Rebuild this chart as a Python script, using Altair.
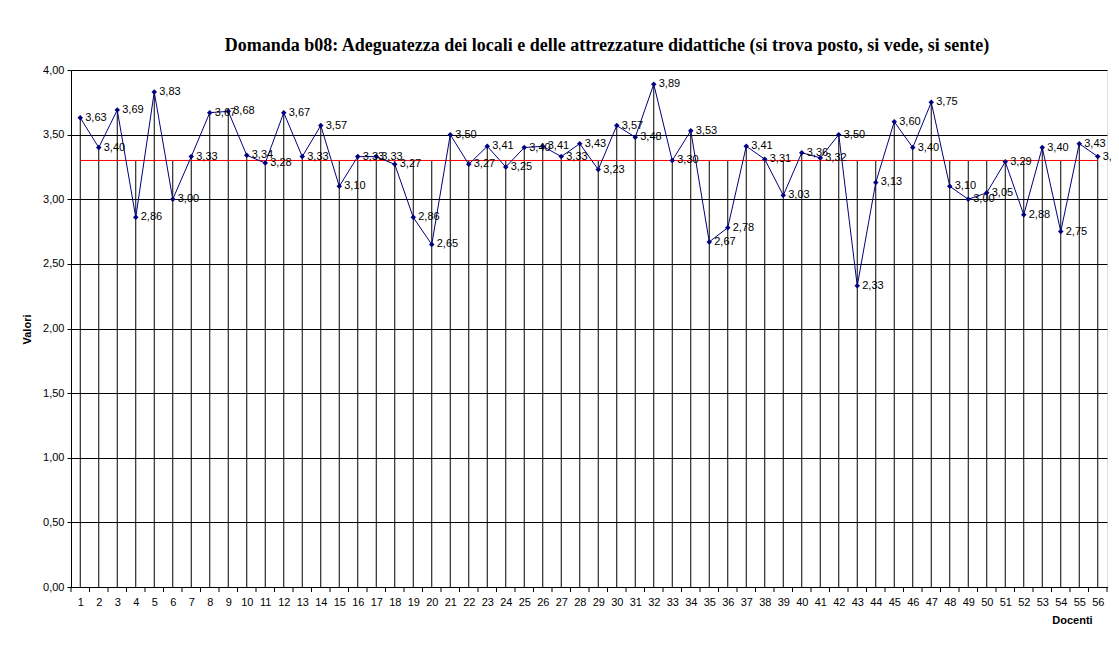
import altair as alt
import pandas as pd

docenti = list(range(1, 57))
valori = [3.63, 3.40, 3.69, 2.86, 3.83, 3.00, 3.33, 3.67, 3.68, 3.34,
          3.28, 3.67, 3.33, 3.57, 3.10, 3.33, 3.33, 3.27, 2.86, 2.65,
          3.50, 3.27, 3.41, 3.25, 3.40, 3.41, 3.33, 3.43, 3.23, 3.57,
          3.48, 3.89, 3.30, 3.53, 2.67, 2.78, 3.41, 3.31, 3.03, 3.36,
          3.32, 3.50, 2.33, 3.13, 3.60, 3.40, 3.75, 3.10, 3.00, 3.05,
          3.29, 2.88, 3.40, 2.75, 3.43, 3.33]
media = 3.30
y_ticks = [0, 0.5, 1.0, 1.5, 2.0, 2.5, 3.0, 3.5, 4.0]
titolo = "Domanda b08: Adeguatezza dei locali e delle attrezzature didattiche (si trova posto, si vede, si sente)"

df = pd.DataFrame({"docente": docenti, "valore": valori})
df["top"] = df["valore"].clip(lower=media)
df["media"] = media
df["etichetta"] = [f"{v:.2f}".replace(".", ",") for v in valori]

bounds = pd.DataFrame({"docente": [d - 0.5 for d in docenti] + [docenti[-1] + 0.5]})

W, H = 1036, 517
FONT = "Liberation Sans"

xaxis = alt.Axis(values=docenti, tickSize=0, labelPadding=9, grid=False,
                 title="Docenti", titleFont=FONT, titleFontSize=11, titleFontWeight="bold",
                 titleColor="black", titleX=1001, titleY=33, titleAlign="center",
                 titleBaseline="middle", labelFont=FONT, labelFontSize=11,
                 labelColor="black", domainColor="black", labelFlush=False)
yaxis = alt.Axis(values=y_ticks, grid=True, gridColor="black", gridOpacity=1, gridWidth=1,
                 tickSize=4, tickColor="black", domainColor="black",
                 labelExpr="replace(format(datum.value, '.2f'), '.', ',')",
                 labelFont=FONT, labelFontSize=11, labelColor="black", labelPadding=3,
                 title="Valori", titleFont=FONT, titleFontSize=11, titleFontWeight="bold",
                 titleColor="black", titleX=-44, titleY=259, titleAngle=270,
                 titleAlign="center", titleBaseline="middle")

xs = alt.Scale(domain=[0.5, 56.5], nice=False, zero=False)
ys = alt.Scale(domain=[0, 4], nice=False)

def X(f):
    return alt.X(f, scale=xs, axis=xaxis)

def Y(f):
    return alt.Y(f, scale=ys, axis=yaxis)

base = alt.Chart(df)

drop = base.mark_rule(color="black", strokeWidth=1).encode(
    x=X("docente:Q"), y=Y("top:Q"), y2=alt.datum(0))
ticks = alt.Chart(bounds).mark_rule(color="black", strokeWidth=1).encode(
    x=X("docente:Q"), y=alt.value(H), y2=alt.value(H + 5))
red = base.mark_line(color="#ff0000", strokeWidth=1).encode(
    x=X("docente:Q"), y=Y("media:Q"))
line = base.mark_line(color="#000080", strokeWidth=1).encode(
    x=X("docente:Q"), y=Y("valore:Q"))
pts = base.mark_point(shape="diamond", filled=True, size=30, color="#000080", opacity=1).encode(
    x=X("docente:Q"), y=Y("valore:Q"))
labels = base.mark_text(align="left", baseline="middle", dx=5, font=FONT, fontSize=11,
                        color="black").encode(
    x=X("docente:Q"), y=Y("valore:Q"), text="etichetta:N")

chart = alt.layer(drop, ticks, red, line, pts, labels).properties(
    width=W, height=H,
    title=alt.TitleParams(titolo, font="Liberation Serif", fontSize=18, fontWeight="bold",
                          color="black", anchor="middle", dx=18, offset=9),
    autosize=alt.AutoSizeParams(type="none"),
    padding={"left": 63, "top": 62, "right": 4, "bottom": 40},
).configure_view(stroke=None).configure(background="white")

chart.save("out.html", embed_options={"renderer": "svg", "actions": False})
